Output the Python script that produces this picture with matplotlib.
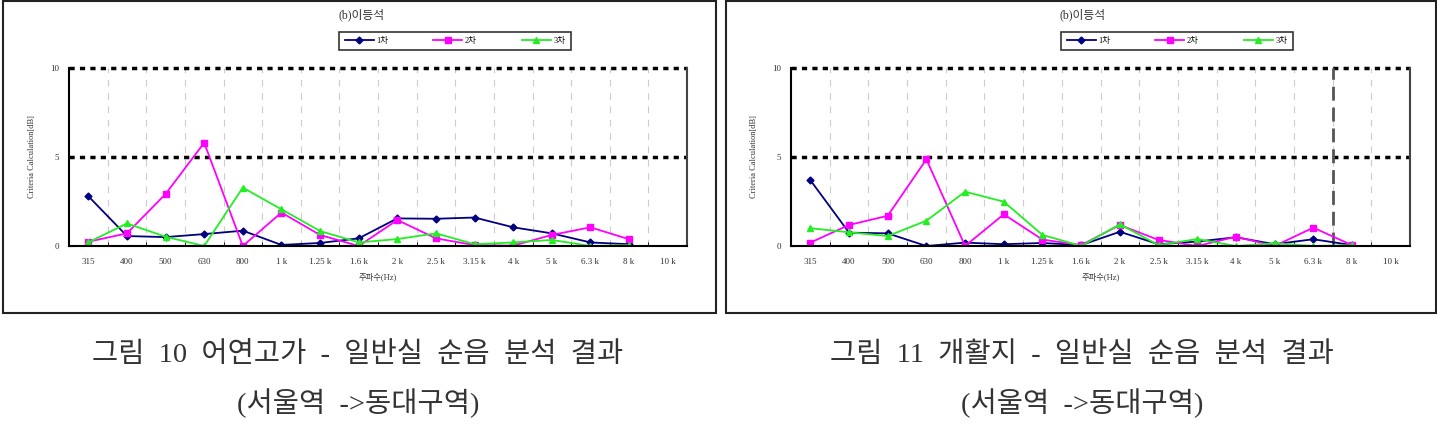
import numpy as np
import matplotlib.pyplot as plt
from matplotlib.patches import Rectangle

plt.rcParams['font.family'] = ['Liberation Serif', 'Noto Sans CJK KR']

# Frequenzbänder (x Achse)
freq_labels = ['315', '400', '500', '630', '800', '1 k', '1.25 k', '1.6 k',
               '2 k', '2.5 k', '3.15 k', '4 k', '5 k', '6.3 k', '8 k', '10 k']

# Bild 10 - 어연고가
links_1cha = [2.8, 0.56, 0.5, 0.67, 0.86, 0.06, 0.17, 0.43, 1.55, 1.53, 1.6, 1.05, 0.71, 0.2, 0.1, np.nan]
links_2cha = [0.24, 0.71, 2.92, 5.8, 0.0, 1.88, 0.62, 0.0, 1.46, 0.43, 0.05, 0.02, 0.62, 1.05, 0.38, np.nan]
links_3cha = [0.2, 1.27, 0.52, 0.0, 3.28, 2.06, 0.84, 0.2, 0.39, 0.71, 0.1, 0.2, 0.34, 0.0, 0.05, np.nan]

# Bild 11 - 개활지
rechts_1cha = [3.7, 0.75, 0.71, 0.0, 0.19, 0.1, 0.17, 0.05, 0.8, 0.1, 0.25, 0.49, 0.1, 0.38, 0.05, np.nan]
rechts_2cha = [0.19, 1.18, 1.7, 4.87, 0.0, 1.78, 0.36, 0.05, 1.18, 0.34, 0.0, 0.52, 0.0, 1.03, 0.05, np.nan]
rechts_3cha = [1.0, 0.77, 0.56, 1.42, 3.05, 2.49, 0.62, 0.0, 1.22, 0.05, 0.39, 0.0, 0.15, 0.0, 0.05, np.nan]

serien_namen = ['1차', '2차', '3차']
chart_titel = '(b)이등석'
caption_zeile1 = ['그림 10 어연고가 - 일반실 순음 분석 결과',
                  '그림 11 개활지 - 일반실 순음 분석 결과']
caption_zeile2 = '(서울역 ->동대구역)'

W, H = 1437, 432
fig = plt.figure(figsize=(W / 100, H / 100), dpi=100)

farben = ['#000080', '#FF00FF', '#22EE22']
marker = ['D', 's', '^']
msize = [3.5, 5, 5]


def zeichne(ax, serien, extra_linie=None):
    x = np.arange(len(freq_labels))
    linien = []
    for s, name, c, m, ms in zip(serien, serien_namen, farben, marker, msize):
        l, = ax.plot(x, s, color=c, marker=m, markersize=ms, linewidth=1.3, label=name)
        linien.append(l)
    ax.set_xlim(-0.5, len(freq_labels) - 0.5)
    ax.set_ylim(0, 10)
    # graue gestrichelte Linien zwischen den Bändern
    for g in np.arange(0.5, len(freq_labels) - 1, 1):
        ax.axvline(g, color='#cccccc', linestyle=(0, (6, 6)), linewidth=0.8, zorder=0)
    # dicke gepunktete Linien bei 5 und 10
    ax.axhline(5, color='black', linestyle=(0, (1.5, 1.5)), linewidth=2.5, zorder=1)
    ax.axhline(10, color='black', linestyle=(0, (1.5, 1.5)), linewidth=2.5, zorder=1, clip_on=False)
    if extra_linie is not None:
        ax.axvline(extra_linie, color='#555555', linestyle=(0, (5, 2.5)), linewidth=2, zorder=1)
    ax.spines['top'].set_visible(False)
    for sp in ['left', 'bottom', 'right']:
        ax.spines[sp].set_linewidth(1.5)
    ax.spines['right'].set_color('#444444')
    ax.set_xticks(x)
    ax.set_xticklabels(freq_labels, fontsize=6.5, color='#333333')
    ax.set_xticks(np.arange(0.5, len(freq_labels) - 1, 1), minor=True)
    ax.tick_params(axis='x', which='major', length=0, pad=9)
    ax.tick_params(axis='x', which='minor', direction='in', length=3)
    ax.set_yticks([0, 5, 10])
    ax.tick_params(axis='y', direction='in', length=3, labelsize=6.5, labelcolor='#333333', pad=7)
    ax.set_ylabel('Criteria Calculation[dB]', fontsize=6, color='#333333', labelpad=10)
    ax.set_xlabel('주파수(Hz)', fontsize=6, color='#333333', labelpad=4)
    return linien


panels = [
    (69, 687, 3, 716, [links_1cha, links_2cha, links_3cha], None, 358),
    (791, 1410, 726, 1436, [rechts_1cha, rechts_2cha, rechts_3cha], 13.5, 1082),
]

for i, (x0, x1, r0, r1, serien, extra, cap_x) in enumerate(panels):
    # Rahmen um das Panel
    fig.patches.append(Rectangle((r0 / W, 1 - 313 / H), (r1 - r0) / W, 312 / H,
                                 transform=fig.transFigure, fill=False,
                                 edgecolor='#222222', linewidth=1.5))
    ax = fig.add_axes([x0 / W, 1 - 246 / H, (x1 - x0) / W, 178 / H])
    linien = zeichne(ax, serien, extra)
    fig.text(((r0 + r1) / 2 + 2) / W, 1 - 15 / H, chart_titel, ha='center', va='center',
             fontsize=8.5, color='#333333')
    leg = fig.legend(linien, serien_namen, loc='center',
                     bbox_to_anchor=((x0 + 386) / W, 1 - 41 / H),
                     ncol=3, fontsize=6, frameon=True, fancybox=False, edgecolor='black',
                     handlelength=3.5, columnspacing=5.4, handletextpad=0.3,
                     borderpad=0.65, borderaxespad=0)
    leg.get_frame().set_linewidth(1.2)
    # Bildunterschrift (breitere Abstände wie im Original)
    fig.text(cap_x / W, 1 - 355 / H, caption_zeile1[i].replace(' ', '  '), ha='center',
             va='center', fontsize=20.5, color='#333333')
    fig.text(cap_x / W, 1 - 403 / H, caption_zeile2.replace(' ', '  '), ha='center',
             va='center', fontsize=20.5, color='#333333')

plt.savefig('out.png', dpi=100)
